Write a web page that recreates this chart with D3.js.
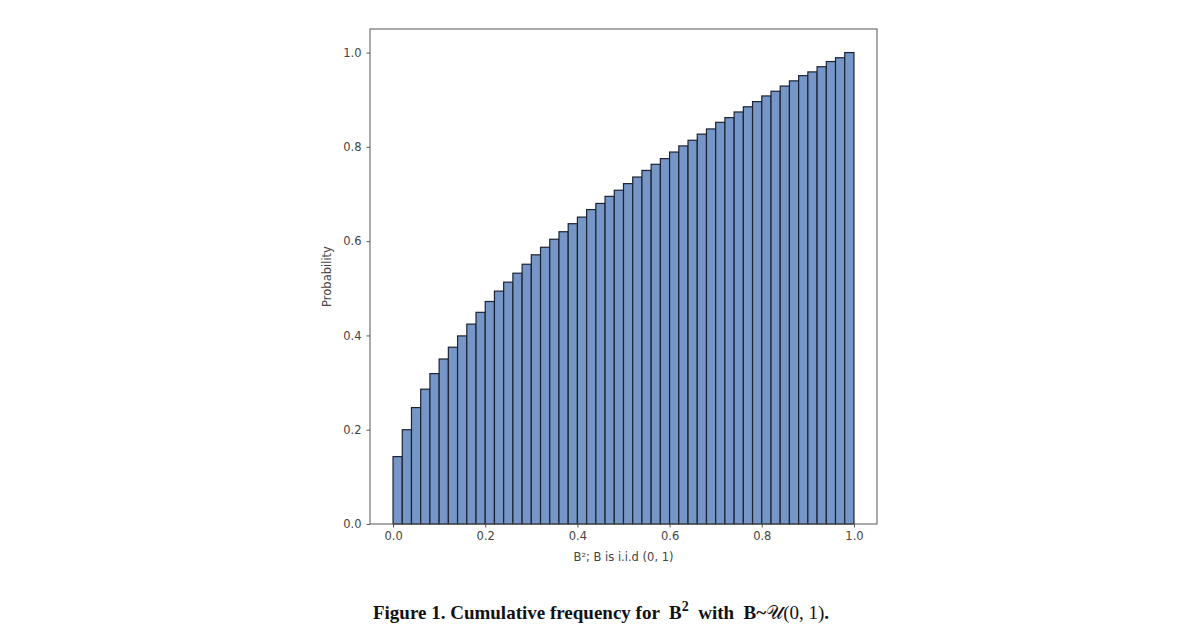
<!DOCTYPE html>
<html>
<head>
<meta charset="utf-8">
<script src="https://cdn.jsdelivr.net/npm/d3@7/dist/d3.min.js"></script>
<style>
  body { margin: 0; background: #fff; }
  svg { display: block; }
  .tick text { font-family: "DejaVu Sans", sans-serif; font-size: 11.5px; fill: #444; }
  .caption { white-space: pre; }
</style>
</head>
<body>
<div id="chart"></div>
<script>
// cumulative probability per bin (50 bins over [0, 1])
const binValues = [
  0.143, 0.200, 0.247, 0.286, 0.319, 0.350, 0.375, 0.399, 0.424, 0.449,
  0.472, 0.494, 0.513, 0.532, 0.551, 0.571, 0.587, 0.604, 0.620, 0.637,
  0.651, 0.667, 0.680, 0.695, 0.708, 0.722, 0.736, 0.750, 0.763, 0.775,
  0.789, 0.802, 0.814, 0.827, 0.838, 0.852, 0.862, 0.874, 0.885, 0.896,
  0.908, 0.918, 0.929, 0.940, 0.951, 0.959, 0.970, 0.981, 0.989, 1.000
];
const xTicks = [0, 0.2, 0.4, 0.6, 0.8, 1.0];
const yTicks = [0, 0.2, 0.4, 0.6, 0.8, 1.0];
const xLabel = 'B²; B is i.i.d (0, 1)';
const yLabel = 'Probability';

const width = 1200, height = 630;
const frame = { left: 370, right: 877, top: 29, bottom: 524 };

const svg = d3.select('#chart').append('svg')
              .attr('width', width)
              .attr('height', height);

const x = d3.scaleLinear()
            .domain([-0.05, 1.05])
            .range([frame.left, frame.right]);

const y = d3.scaleLinear()
            .domain([0, 1.05])
            .range([frame.bottom, frame.top]);

const binWidth = 1 / binValues.length;

// bars
svg.append('g')
   .selectAll('rect')
   .data(binValues)
   .enter().append('rect')
   .attr('x', (d, i) => x(i * binWidth))
   .attr('y', d => y(d))
   .attr('width', x(binWidth) - x(0))
   .attr('height', d => y(0) - y(d))
   .attr('fill', '#7596c6')
   .attr('stroke', '#1b2232')
   .attr('stroke-width', 1.2);

// frame
svg.append('rect')
   .attr('x', frame.left)
   .attr('y', frame.top)
   .attr('width', frame.right - frame.left)
   .attr('height', frame.bottom - frame.top)
   .attr('fill', 'none')
   .attr('stroke', '#555')
   .attr('stroke-width', 1);

const xAxis = svg.append('g')
                 .attr('transform', 'translate(0,' + frame.bottom + ')')
                 .call(d3.axisBottom(x).tickValues(xTicks).tickFormat(d3.format('.1f')).tickSize(3.5).tickPadding(4));
xAxis.select('.domain').remove();
xAxis.selectAll('line').attr('stroke', '#555');

const yAxis = svg.append('g')
                 .attr('transform', 'translate(' + frame.left + ',0)')
                 .call(d3.axisLeft(y).tickValues(yTicks).tickFormat(d3.format('.1f')).tickSize(3.5).tickPadding(5));
yAxis.select('.domain').remove();
yAxis.selectAll('line').attr('stroke', '#555');

svg.append('text')
   .attr('x', x(0.5))
   .attr('y', 561)
   .attr('text-anchor', 'middle')
   .attr('font-family', 'DejaVu Sans, sans-serif')
   .attr('font-size', 11.5)
   .attr('fill', '#444')
   .text(xLabel);

svg.append('text')
   .attr('transform', 'translate(331,' + (frame.top + frame.bottom) / 2 + ') rotate(-90)')
   .attr('text-anchor', 'middle')
   .attr('font-family', 'DejaVu Sans, sans-serif')
   .attr('font-size', 11.5)
   .attr('fill', '#444')
   .text(yLabel);

// caption
const caption = svg.append('text')
                   .attr('class', 'caption')
                   .attr('x', 601)
                   .attr('y', 619)
                   .attr('text-anchor', 'middle')
                   .attr('font-family', 'Liberation Serif, serif')
                   .attr('font-weight', 'bold')
                   .attr('font-size', 19)
                   .attr('fill', '#111');
caption.append('tspan').text('Figure 1. Cumulative frequency for  B');
caption.append('tspan').attr('dy', -8).attr('font-size', 14).text('2');
caption.append('tspan').attr('dy', 8).text('  with  B~');
caption.append('tspan').attr('font-weight', 'normal').attr('font-family', 'DejaVu Serif, serif').text('𝒰');
caption.append('tspan').attr('font-weight', 'normal').text('(0, 1)');
caption.append('tspan').text('.');
</script>
</body>
</html>
